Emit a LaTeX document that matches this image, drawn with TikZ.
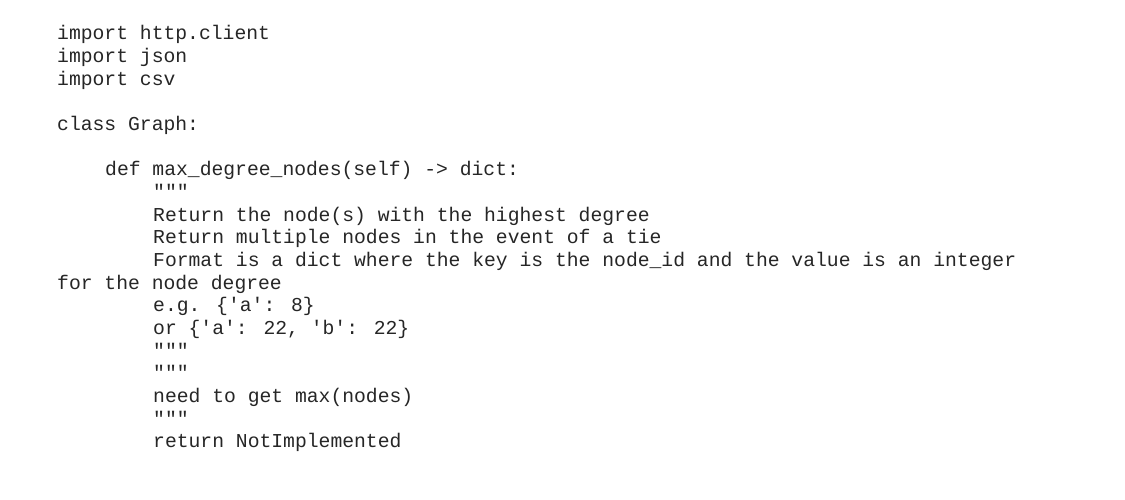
\documentclass[tikz,border=0pt]{standalone}
\usepackage{fontspec}
\newfontfamily\codefont{Liberation Mono}
\begin{document}
\begin{tikzpicture}[x=1pt,y=1pt,
  codeline/.style={anchor=base west,inner sep=0pt,font=\codefont\fontsize{19.7}{22}\selectfont,text=black!85}]
\useasboundingbox[fill=white] (0,0) rectangle (1125,500);
\def\ly#1{500-40-22.65*#1}
\node[codeline] (l0) at (57,{\ly{0}}) {import http.client};
\node[codeline] (l1) at (57,{\ly{1}}) {import json};
\node[codeline] (l2) at (57,{\ly{2}}) {import csv};
\node[codeline] (l4) at (57,{\ly{4}}) {class Graph:};
\node[codeline] (l6) at (105,{\ly{6}}) {def max\_degree\_nodes(self) -> dict:};
\node[codeline] (l7) at (153,{\ly{7}}) {"""};
\node[codeline] (l8) at (153,{\ly{8}}) {Return the node(s) with the highest degree};
\node[codeline] (l9) at (153,{\ly{9}}) {Return multiple nodes in the event of a tie};
\node[codeline] (l10) at (153,{\ly{10}}) {Format is a dict where the key is the node\_id and the value is an integer};
\node[codeline] (l11) at (57,{\ly{11}}) {for the node degree};
\node[codeline] (l12) at (153,{\ly{12}}) {e.g. \{'a': 8\}};
\node[codeline] (l13) at (153,{\ly{13}}) {or \{'a': 22, 'b': 22\}};
\node[codeline] (l14) at (153,{\ly{14}}) {"""};
\node[codeline] (l15) at (153,{\ly{15}}) {"""};
\node[codeline] (l16) at (153,{\ly{16}}) {need to get max(nodes)};
\node[codeline] (l17) at (153,{\ly{17}}) {"""};
\node[codeline] (l18) at (153,{\ly{18}}) {return NotImplemented};
\end{tikzpicture}
\end{document}
